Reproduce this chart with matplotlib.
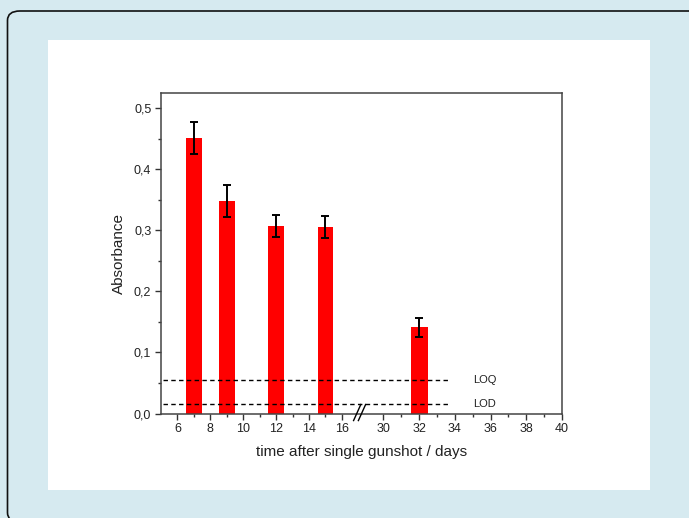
import numpy as np
import matplotlib
matplotlib.use("Agg")
import matplotlib.pyplot as plt
from matplotlib.patches import FancyBboxPatch, Rectangle
from matplotlib.ticker import FixedLocator

plt.rcParams['font.family'] = ['Liberation Sans', 'DejaVu Sans']

# ---- data ----
days = [7, 9, 12, 15, 32]
absorbance = [0.451, 0.348, 0.307, 0.305, 0.141]
errors = [0.026, 0.026, 0.018, 0.018, 0.015]
loq = 0.055
lod = 0.016
x_ticks = [6, 8, 10, 12, 14, 16, 30, 32, 34, 36, 38, 40]
x_minor = [7, 9, 11, 13, 15, 31, 33, 35, 37, 39]
y_ticks = [0.0, 0.1, 0.2, 0.3, 0.4, 0.5]
y_tick_labels = ["0,0", "0,1", "0,2", "0,3", "0,4", "0,5"]
y_minor = [0.05, 0.15, 0.25, 0.35, 0.45]

# ---- broken-axis scale ----
B1, B2, K = 17.23, 28.8, 1.086

def fwd(x):
    x = np.asarray(x, dtype=float)
    return np.where(x <= B1, x, np.where(x >= B2, B1 + (x - B2) * K, B1))

def inv(u):
    u = np.asarray(u, dtype=float)
    return np.where(u <= B1, u, B2 + (u - B1) / K)

W, H = 689, 518
fig = plt.figure(figsize=(W / 100, H / 100), dpi=100)
fig.patch.set_facecolor('#d6eaf0')

# rounded border (right and bottom edges run off the canvas)
border = FancyBboxPatch((7.5 / W, -4 / H), (W + 12 - 7.5) / W, (H - 11 + 4) / H,
                        boxstyle="round,pad=0,rounding_size=0.018",
                        transform=fig.transFigure, facecolor='#d6eaf0',
                        edgecolor='#111111', linewidth=1.2, zorder=-3)
fig.patches.append(border)
# white panel
panel = Rectangle((48 / W, 1 - 490 / H), (650 - 48) / W, (490 - 40) / H,
                  transform=fig.transFigure, facecolor='white', edgecolor='none', zorder=-2)
fig.patches.append(panel)

ax = fig.add_axes([161 / W, 1 - 413.5 / H, (562 - 161) / W, (413.5 - 92.7) / H])
ax.set_facecolor('none')
ax.set_xscale('function', functions=(fwd, inv))
ax.set_xlim(5, 40)
ax.set_ylim(0, 0.525)

ax.bar(days, absorbance, width=0.95, color='#ff0000', edgecolor='none', zorder=2)
ax.errorbar(days, absorbance, yerr=errors, fmt='none', ecolor='black',
            elinewidth=1.4, capsize=2.8, capthick=1.4, zorder=3)

# LOQ / LOD dashed lines
ax.plot([5.1, 33.75], [loq, loq], ls=(0, (3.2, 2.4)), color='black', lw=1.0, zorder=4)
ax.plot([5.1, 33.75], [lod, lod], ls=(0, (3.2, 2.4)), color='black', lw=1.0, zorder=4)
ax.text(35.0, loq, 'LOQ', fontsize=8, va='center', ha='left', color='#222222')
ax.text(35.0, lod, 'LOD', fontsize=8, va='center', ha='left', color='#222222')

# ticks
ax.xaxis.set_major_locator(FixedLocator(x_ticks))
ax.xaxis.set_minor_locator(FixedLocator(x_minor))
ax.set_xticklabels([str(t) for t in x_ticks])
ax.yaxis.set_major_locator(FixedLocator(y_ticks))
ax.yaxis.set_minor_locator(FixedLocator(y_minor))
ax.set_yticklabels(y_tick_labels)
ax.tick_params(which='major', direction='out', length=4, width=1.0, color='#333333',
               labelsize=9, labelcolor='#222222', pad=3)
ax.tick_params(which='minor', direction='out', length=2.5, width=1.0, color='#333333')
for s in ax.spines.values():
    s.set_color('#444444')
    s.set_linewidth(1.1)

ax.set_xlabel('time after single gunshot / days', fontsize=11, color='#222222', labelpad=7)
ax.set_ylabel('Absorbance', fontsize=11, color='#222222', labelpad=6)

# break marks "//"
xb = (362 - 161) / (562 - 161)
for dx in (-0.012, 0.0):
    ax.plot([xb + dx - 0.009, xb + dx + 0.009], [-0.022, 0.028], transform=ax.transAxes,
            color='black', lw=1.0, clip_on=False, zorder=5)

fig.savefig('out.png', dpi=100, facecolor=fig.get_facecolor())
